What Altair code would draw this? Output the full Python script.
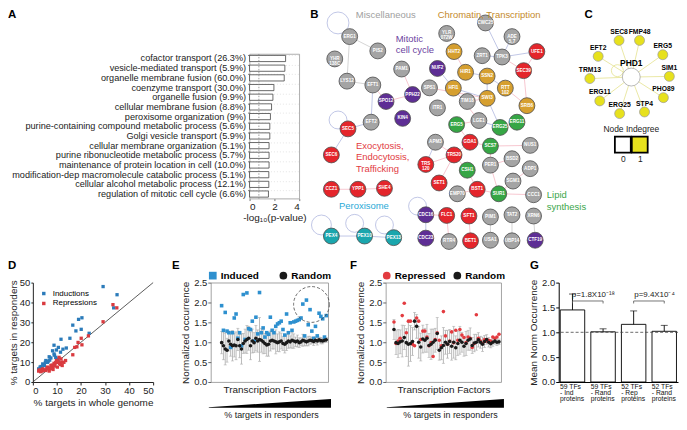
import altair as alt
import pandas as pd

FONT = "Liberation Sans"

# ---------------- Panel A : GO enrichment ----------------
go_terms = [
    "cofactor transport (26.3%)",
    "vesicle-mediated transport (5.9%)",
    "organelle membrane fusion (60.0%)",
    "coenzyme transport (30.0%)",
    "organelle fusion (9.9%)",
    "cellular membrane fusion (8.8%)",
    "peroxisome organization (9%)",
    "purine-containing compound metabolic process (5.6%)",
    "Golgi vesicle transport (5.9%)",
    "cellular membrane organization (5.1%)",
    "purine ribonucleotide metabolic process (5.7%)",
    "maintenance of protein location in cell (10.0%)",
    "modification-dep macromolecule catabolic process (5.1%)",
    "cellular alcohol metabolic process (12.1%)",
    "regulation of mitotic cell cycle (6.6%)",
]
go_neglogp = [2.90, 2.84, 2.79, 1.96, 1.88, 1.77, 1.68, 1.63, 1.63, 1.57, 1.57, 1.57, 1.55, 1.55, 1.52]
go_cutoff = [0.75]

# ---------------- Panel B : responder network (layout units) ----------------
b_groups = ["misc", "mitotic", "chromatin", "traffic", "perox", "lipid"]
b_node_colors = ["#a4a4a4", "#5e2e95", "#d69f2f", "#e4252b", "#1aa6ad", "#36a645"]
b_caption_colors = ["#a0a0a0", "#6b3fa0", "#c48a2b", "#e23b3f", "#29a9d6", "#3aa64a"]

b_misc_names = ["ERG1", "PIS2", "YHR\n138C", "LYS12", "EFT1", "PAM1", "EFT2", "SPS1", "ITR1",
                "YLR\n072W", "CWC25", "ADE\n5,7", "ZRT1", "TPK3", "TIM18", "LGE1", "APM3", "NUS1",
                "BSD2", "PER1", "ADP1", "SGM1", "EMP70", "CCC1", "PIM1", "TAT2", "XRN6", "RTR4",
                "USA1", "UBP14"]
b_misc_x = [351.7, 380, 336.7, 349, 375, 404, 373.3, 432, 440, 449.3, 488.3, 515, 485, 505, 470,
            481.7, 438, 533.3, 515, 493.3, 533.3, 516, 460, 536.7, 493.3, 515, 536.7, 451.7, 493.3, 515]
b_misc_y = [29.3, 44.3, 52.7, 76, 80, 63.3, 119, 83, 104, 26, 15, 29.3, 49.3, 50.7, 97.3, 117.3,
            140, 143.3, 157.3, 164, 167.7, 180.7, 194, 195, 218.3, 216, 217.3, 244, 242.7, 243.3]

b_mitotic_names = ["SPO12", "PPH22", "KIN4", "NUF2", "CDC16", "CDC23", "CTF19"]
b_mitotic_x = [388.3, 415, 405, 440, 428.3, 428.3, 538.3]
b_mitotic_y = [97.3, 90, 115, 62.7, 216, 240.5, 242.7]

b_chromatin_names = ["HHT2", "HIR1", "SSN2", "RTT\n102", "HFI1", "SWI3", "SRB6"]
b_chromatin_x = [456.7, 468.3, 490, 508.3, 456, 490, 530]
b_chromatin_y = [45, 66.7, 70.7, 83.3, 83.3, 94, 101.7]

b_traffic_names = ["SEC5", "SEC6", "CCZ1", "YPP1", "SHE4", "UFE1", "SEC39", "GDA1", "TRS20",
                   "TRS\n120", "SET1", "BST1", "FLC1", "SFT1", "BET1"]
b_traffic_x = [350, 333.3, 333.3, 360, 386.7, 540, 526.7, 472.7, 456.7, 428.3, 441.7, 480, 449.3, 471.7, 473.3]
b_traffic_y = [126, 153.3, 189.3, 189.3, 188.3, 45, 65, 140, 153.3, 163.3, 182.7, 189.3, 216.7, 217.3, 243.3]

b_perox_names = ["PEX4", "PEX10", "PEX13"]
b_perox_x = [333.3, 366.7, 396]
b_perox_y = [238.3, 238.3, 240]

b_lipid_names = ["ERG5", "ERG25", "ERG11", "SCS7", "CSH1", "SUR1"]
b_lipid_x = [459.3, 503, 520, 493.3, 470, 501.7]
b_lipid_y = [121.5, 124.5, 119, 144, 169.3, 194]

b_edge_src = ["ERG1", "ERG1", "LYS12", "EFT1", "EFT1", "SPO12", "PAM1", "SEC5", "SEC5", "CCZ1",
              "YPP1", "PEX4", "PEX10", "CDC16", "CDC16", "FLC1", "SFT1", "PIM1", "TAT2", "XRN6",
              "HHT2", "HIR1", "SSN2", "RTT102", "HFI1", "SWI3", "ZRT1", "CWC25", "ADE5,7", "TPK3",
              "SEC39", "NUF2", "SPS1", "HFI1", "SWI3", "TIM18", "ERG5", "LGE1", "ERG25", "ERG5",
              "GDA1", "TRS20", "TRS20", "TRS20", "TRS20", "TRS20", "SCS7", "SCS7", "PER1", "PER1",
              "SUR1", "SUR1", "BST1", "EMP70", "CSH1", "SGM1", "APM3", "SEC39", "UFE1"]
b_edge_dst = ["PIS2", "LYS12", "EFT1", "EFT2", "SPO12", "PPH22", "PPH22", "EFT2", "SEC6", "YPP1",
              "SHE4", "PEX10", "PEX13", "CDC23", "FLC1", "RTR4", "BET1", "USA1", "UBP14", "CTF19",
              "HIR1", "SSN2", "RTT102", "SRB6", "SWI3", "SSN2", "TPK3", "TPK3", "TPK3", "SEC39",
              "UFE1", "HFI1", "SWI3", "LGE1", "ERG25", "SWI3", "LGE1", "ERG25", "ERG11", "GDA1",
              "SCS7", "GDA1", "APM3", "TRS120", "CSH1", "SET1", "NUS1", "PER1", "BSD2", "SUR1",
              "SGM1", "CCC1", "SUR1", "BST1", "BST1", "ADP1", "TRS120", "SRB6", "TPK3"]
b_edge_kind = ["g", "g", "g", "b", "r", "r", "r", "b", "b", "r",
               "r", "b", "b", "b", "r", "r", "r", "g", "g", "g",
               "r", "b", "b", "r", "b", "b", "b", "b", "b", "r",
               "r", "b", "r", "r", "b", "r", "r", "b", "r", "r",
               "r", "r", "r", "r", "r", "r", "r", "r", "r", "r",
               "r", "r", "r", "r", "r", "r", "b", "r", "b"]

b_loop_x = [340, 340, 323.3, 356.7, 386.7, 420]
b_loop_y = [15, 116.7, 226.7, 225, 226.7, 207]
b_loop_d = [22, 18, 20, 18, 18, 18]

b_cap_text = ["Miscellaneous", "Chromatin, Transcription", "Peroxisome",
              "Mitotic\ncell cycle", "Exocytosis,\nEndocytosis,\nTrafficking", "Lipid\nsynthesis"]
b_cap_group = ["misc", "chromatin", "perox", "mitotic", "traffic", "lipid"]
b_cap_x = [388, 492, 366, 398, 358, 550]
b_cap_y = [6.5, 6.5, 207, 26.5, 138.5, 190.5]
b_cap_multiline = [False, False, False, True, True, True]

# ---------------- Panel C : PHD1 targets ----------------
c_hub = "PHD1"
c_hub_x, c_hub_y = 635, 71.7
c_targets = ["SEC8", "FMP48", "ERG5", "EFT2", "SIM1", "TRM13", "PHO89", "ERG11", "ERG25", "STP4"]
c_x = [622.7, 643.3, 666.7, 601.7, 673.3, 593.3, 667.3, 603.3, 623.3, 648.3]
c_y = [33.3, 33.3, 48.3, 50, 71, 73.3, 93.3, 96.7, 110, 108.3]
c_key_indegree = ["0", "1"]
c_key_x = [626.5, 643.5]
c_key_y = [142.5, 142.5]

# ---------------- Panel D ----------------
ind_genome = [29.2, 35.0, 33.6, 20.4, 19.0, 16.6, 17.9, 20.1, 23.4, 11.7, 15.4, 8.8, 10.6, 9.8, 8.2,
              13.9, 6.8, 7.5, 5.4, 4.1, 3.4, 2.4, 4.8, 6.1, 8.8, 9.5, 10.2, 8.2, 10.6, 5.2, 3.0, 7.0,
              9.0, 11.5, 12.5, 6.4, 4.5, 3.8]
ind_resp = [48.0, 43.9, 37.3, 32.3, 31.5, 28.6, 25.7, 26.5, 24.5, 21.5, 22.0, 18.5, 17.4, 16.1, 15.7,
            17.1, 12.7, 12.1, 10.8, 9.1, 7.8, 6.6, 8.3, 9.9, 14.1, 12.4, 11.6, 8.3, 9.9, 9.9, 7.5, 11.0,
            13.5, 15.0, 16.5, 10.5, 8.5, 6.9]
rep_genome = [33.3, 34.9, 29.2, 18.8, 20.1, 17.4, 18.3, 16.6, 23.1, 20.4, 13.6, 11.7, 12.2, 10.9, 10.2,
              9.2, 8.2, 6.8, 5.4, 3.8, 2.4, 4.8, 6.1, 7.5, 8.8, 9.8, 11.1, 2.7, 6.8, 8.4, 10.2, 11.5,
              12.9, 4.1, 7.0, 8.0, 9.5, 10.5, 5.8, 4.4, 3.2, 7.6, 9.0, 12.0]
rep_resp = [38.9, 37.3, 30.3, 19.9, 22.0, 17.4, 17.7, 13.7, 23.2, 18.7, 10.8, 11.6, 8.3, 12.4, 9.9,
            9.1, 7.5, 6.6, 5.8, 5.5, 5.5, 6.1, 7.5, 8.3, 9.4, 10.8, 9.4, 6.1, 5.5, 6.3, 7.5, 8.8,
            9.9, 6.6, 7.0, 8.5, 9.8, 10.5, 6.8, 5.9, 5.2, 6.8, 8.0, 10.0]
identity_line = [0, 50]

# ---------------- Panel E ----------------
induced_E = [1.92, 1.30, 1.75, 1.28, 1.24, 0.87, 1.24, 1.61, 1.71, 1.10,
             1.24, 0.91, 2.20, 1.07, 2.24, 1.34, 1.32, 1.53, 1.03, 1.63,
             1.21, 2.25, 1.24, 1.36, 1.13, 1.24, 1.20, 1.63, 1.30, 1.24,
             1.40, 1.46, 1.49, 1.53, 1.32, 1.18, 1.71, 1.24, 1.49, 1.30,
             1.51, 1.53, 1.55, 1.57, 1.61, 1.96, 1.16, 2.06, 1.44, 1.82,
             1.28, 1.10, 1.40, 1.16, 1.73, 1.65, 1.59, 1.13, 1.67]
random_E = [0.99, 0.91, 0.83, 0.80, 1.03, 0.95, 0.91, 0.93, 0.91, 1.07,
            0.91, 0.83, 0.97, 1.03, 1.07, 1.10, 0.91, 1.03, 0.99, 1.10,
            1.03, 1.07, 1.05, 1.01, 0.97, 0.93, 0.95, 1.03, 1.05, 1.03,
            1.01, 0.99, 1.01, 1.03, 0.97, 0.95, 0.99, 1.03, 1.01, 1.05,
            1.03, 1.01, 1.03, 0.99, 1.01, 1.05, 1.03, 1.01, 1.03, 1.05,
            1.04, 1.02, 1.05, 1.03, 1.06, 1.04, 1.03, 1.05, 1.06]
random_E_sd = [0.28, 0.35, 0.40, 0.30, 0.25, 0.30, 0.38, 0.30, 0.35, 0.28,
               0.30, 0.38, 0.25, 0.30, 0.35, 0.30, 0.35, 0.30, 0.25, 0.32,
               0.28, 0.55, 0.30, 0.30, 0.25, 0.28, 0.30, 0.25, 0.22, 0.20,
               0.30, 0.22, 0.25, 0.20, 0.18, 0.22, 0.20, 0.18, 0.15, 0.20,
               0.18, 0.12, 0.15, 0.12, 0.10, 0.15, 0.12, 0.10, 0.12, 0.10,
               0.08, 0.10, 0.08, 0.10, 0.07, 0.08, 0.07, 0.06, 0.06]
highlight_E_rank = [50.8]
highlight_E_occ = [1.95]

# ---------------- Panel F ----------------
repressed_F = [1.51, 0.97, 1.03, 1.10, 1.67, 1.98, 1.24, 1.53, 1.53, 0.95,
               0.91, 1.61, 1.53, 1.07, 1.28, 1.28, 1.13, 0.91, 0.99, 0.64,
               1.07, 1.24, 1.05, 0.91, 1.77, 1.16, 0.95, 1.03, 1.26, 0.99,
               1.30, 1.05, 1.32, 1.18, 1.12, 0.99, 1.13, 1.10, 0.87, 0.97,
               1.69, 1.10, 1.03, 0.97, 1.07, 1.03, 1.05, 1.03, 1.13, 1.10,
               1.13, 1.20]
random_F = [1.32, 0.99, 0.97, 1.01, 1.03, 1.12, 0.99, 0.95, 0.97, 1.02,
            1.53, 1.40, 1.00, 0.88, 1.08, 1.05, 1.10, 0.92, 0.95, 1.00,
            1.05, 1.22, 0.80, 0.86, 0.92, 1.00, 0.95, 1.02, 0.90, 1.00,
            0.86, 0.97, 1.05, 1.00, 0.90, 0.97, 1.05, 1.08, 0.92, 0.98,
            1.00, 1.06, 1.00, 0.95, 1.02, 1.07, 1.00, 0.96, 1.00, 1.03,
            1.00, 1.01]
random_F_sd = [0.25, 0.30, 0.35, 0.30, 0.40, 0.30, 0.35, 0.55, 0.45, 0.35,
               0.22, 0.30, 0.40, 0.35, 0.35, 0.30, 0.35, 0.30, 0.38, 0.33,
               0.30, 0.40, 0.25, 0.30, 0.45, 0.30, 0.35, 0.30, 0.35, 0.40,
               0.30, 0.30, 0.35, 0.25, 0.25, 0.30, 0.25, 0.28, 0.20, 0.22,
               0.20, 0.18, 0.15, 0.18, 0.15, 0.12, 0.12, 0.10, 0.10, 0.08,
               0.08, 0.07]

# ---------------- Panel G ----------------
g_groups = ["59  TFs|- Ind|proteins", "59  TFs |- Rand|proteins",
            "52  TFs|- Rep|proteins", "52  TFs |- Rand|proteins"]
g_mean = [1.45, 1.01, 1.16, 1.02]
g_err = [0.32, 0.06, 0.27, 0.12]
g_reference = [1.0]
g_cmp_a = [g_groups[0], g_groups[2]]
g_cmp_b = [g_groups[1], g_groups[3]]
g_cmp_y = [1.63, 1.63]
g_cmp_p = ["p=1.8X10⁻¹⁸", "p=9.4X10⁻⁴"]

# ================= layout sizes =================
TOP_H = 145.5
SPACER_W, A_W, B_W, C_W = 160, 50, 173, 90
D_W, E_W, F_W, G_W = 121, 118, 116, 120
BOT_H = 100
NET_K = 0.96                       # vertical squeeze of the network layout
top_y_dom = [47.5, 47.5 + TOP_H / NET_K]
BOT_LETTER_DY = -17


def lay_x(lo, w):
    return alt.Scale(domain=[lo, lo + w], nice=False, zero=False)


def lay_y():
    return alt.Scale(domain=top_y_dom, nice=False, zero=False, reverse=True)


def letter(t, dx, dy):
    return alt.Chart(pd.DataFrame({"t": [t]})).mark_text(
        fontSize=11.5, fontWeight="bold", align="left", baseline="middle", color="black"
    ).encode(x=alt.value(dx), y=alt.value(dy), text="t:N")


# ---------- spacer carrying letter A ----------
top_letters = pd.DataFrame({"t": ["A", "B", "C"], "x": [8, 312, 588], "y": [7, 7, 7]})
spacer = alt.Chart(top_letters.iloc[[0]]).mark_text(
    fontSize=11.5, fontWeight="bold", align="left", baseline="middle", color="black"
).encode(
    x=alt.X("x:Q", scale=lay_x(33, SPACER_W), axis=None),
    y=alt.Y("y:Q", scale=lay_y(), axis=None),
    text="t:N",
).properties(width=SPACER_W, height=TOP_H)

# ---------- A ----------
dfA = pd.DataFrame({"term": go_terms, "score": go_neglogp})
xA = alt.X("score:Q", scale=alt.Scale(domain=[0, 4], nice=False),
           axis=alt.Axis(values=[0, 2, 4], title="-log₁₀(p-value)", titleFontSize=10,
                         labelFontSize=10, tickSize=2, domain=False, grid=False,
                         labelPadding=1, titlePadding=1, tickColor="#777"))
yA = alt.Y("term:N", sort=go_terms, scale=alt.Scale(paddingInner=0.36, paddingOuter=0.15),
           axis=alt.Axis(title=None, labelFontSize=9.2, labelPadding=2, tickSize=2, domain=False,
                         tickColor="#777", labelLimit=400, grid=True, gridColor="#e4e4e4",
                         gridDash=[1, 2], bandPosition=0))
barsA = alt.Chart(dfA).mark_bar(fill="white", stroke="#444", strokeWidth=0.8).encode(x=xA, y=yA)
cutA = alt.Chart(pd.DataFrame({"score": go_cutoff})).mark_rule(
    strokeDash=[1.5, 1.5], color="#888", strokeWidth=0.8).encode(x=xA)
chartA = alt.layer(barsA, cutA).properties(
    width=A_W, height=TOP_H, view=alt.ViewBackground(stroke="#999", strokeWidth=0.8))

# ---------- B ----------
rows = []
for grp, names, xs, ys in [("misc", b_misc_names, b_misc_x, b_misc_y),
                           ("mitotic", b_mitotic_names, b_mitotic_x, b_mitotic_y),
                           ("chromatin", b_chromatin_names, b_chromatin_x, b_chromatin_y),
                           ("traffic", b_traffic_names, b_traffic_x, b_traffic_y),
                           ("perox", b_perox_names, b_perox_x, b_perox_y),
                           ("lipid", b_lipid_names, b_lipid_x, b_lipid_y)]:
    for n, xv, yv in zip(names, xs, ys):
        rows.append({"label": n, "id": n.replace("\n", ""), "x": xv, "y": yv, "group": grp})
nodesB = pd.DataFrame(rows)
posB = nodesB.set_index("id")
edgesB = pd.DataFrame({"src": b_edge_src, "dst": b_edge_dst, "kind": b_edge_kind})
edgesB["x"] = edgesB.src.map(posB.x)
edgesB["y"] = edgesB.src.map(posB.y)
edgesB["x2"] = edgesB.dst.map(posB.x)
edgesB["y2"] = edgesB.dst.map(posB.y)
loopsB = pd.DataFrame({"x": b_loop_x, "y": b_loop_y, "area": [d * d for d in b_loop_d]})
capsB = pd.DataFrame({"t": b_cap_text, "group": b_cap_group, "x": b_cap_x, "y": b_cap_y,
                      "multi": b_cap_multiline})

XB = alt.X("x:Q", scale=lay_x(359, B_W), axis=None)
YB = alt.Y("y:Q", scale=lay_y(), axis=None)
cap_color = alt.Color("group:N", scale=alt.Scale(domain=b_groups, range=b_caption_colors), legend=None)

edgeLayer = alt.Chart(edgesB).mark_rule(strokeWidth=0.7).encode(
    x=XB, y=YB, x2="x2:Q", y2="y2:Q",
    stroke=alt.Stroke("kind:N", scale=alt.Scale(domain=["r", "b", "g"],
                                                range=["#f3aebb", "#a6aedb", "#c2c2c2"]), legend=None))
loopLayer = alt.Chart(loopsB).mark_point(shape="circle", filled=False, stroke="#a6aedb",
                                          strokeWidth=0.7, opacity=1).encode(
    x=XB, y=YB, size=alt.Size("area:Q", scale=None, legend=None))
nodeLayer = alt.Chart(nodesB).mark_circle(size=256, stroke="#4d4d4d", strokeWidth=0.8, opacity=1).encode(
    x=XB, y=YB, fill=alt.Fill("group:N", scale=alt.Scale(domain=b_groups, range=b_node_colors), legend=None))
nodeText = alt.Chart(nodesB).mark_text(color="white", fontSize=4.6, fontWeight="bold",
                                       lineBreak="\n", lineHeight=5).encode(x=XB, y=YB, text="label:N")
capCenter = alt.Chart(capsB[~capsB.multi]).mark_text(fontSize=9.5, align="center", baseline="middle").encode(
    x=XB, y=YB, text="t:N", color=cap_color)
capLeft = alt.Chart(capsB[capsB.multi]).mark_text(fontSize=9.5, align="left", baseline="top",
                                                  lineBreak="\n", lineHeight=11.5).encode(
    x=XB, y=YB, text="t:N", color=cap_color)
letterB = alt.Chart(top_letters.iloc[[1]]).mark_text(
    fontSize=11.5, fontWeight="bold", align="left", baseline="middle", color="black").encode(
    x=XB, y=YB, text="t:N")
chartB = alt.layer(edgeLayer, loopLayer, nodeLayer, nodeText, capCenter, capLeft, letterB).properties(
    width=B_W, height=TOP_H)

# ---------- C ----------
XC = alt.X("x:Q", scale=lay_x(590, C_W), axis=None)
YC = alt.Y("y:Q", scale=lay_y(), axis=None)
indeg_fill = alt.Fill("indeg:N", scale=alt.Scale(domain=["0", "1"], range=["white", "#e7e11d"]), legend=None)
nodesC = pd.DataFrame({"label": [c_hub] + c_targets, "x": [c_hub_x] + c_x, "y": [c_hub_y] + c_y,
                       "indeg": ["0"] + ["1"] * len(c_targets),
                       "area": [324] + [100] * len(c_targets)})
edgesC = pd.DataFrame({"x": [c_hub_x] * len(c_targets), "y": [c_hub_y] * len(c_targets),
                       "x2": c_x, "y2": c_y})
loopC = pd.DataFrame({"x": [621], "y": [65], "area": [144]})
keyC = pd.DataFrame({"indeg": c_key_indegree, "x": c_key_x, "y": c_key_y})
keyText = pd.DataFrame({"t": ["Node Indegree", "0", "1"], "x": [635, 627, 644], "y": [126, 158, 158]})

cEdges = alt.Chart(edgesC).mark_rule(stroke="#e4e28f", strokeWidth=0.8).encode(x=XC, y=YC, x2="x2:Q", y2="y2:Q")
cLoop = alt.Chart(loopC).mark_point(shape="circle", filled=False, stroke="#e4e28f", strokeWidth=0.8,
                                     opacity=1).encode(x=XC, y=YC, size=alt.Size("area:Q", scale=None, legend=None))
cNodes = alt.Chart(nodesC).mark_circle(stroke="#9a9a9a", strokeWidth=0.7, opacity=1).encode(
    x=XC, y=YC, size=alt.Size("area:Q", scale=None, legend=None), fill=indeg_fill)
cLabels = alt.Chart(nodesC.iloc[1:]).mark_text(fontSize=6.8, fontWeight="bold", color="black", dy=-8.5).encode(
    x=XC, y=YC, text="label:N")
cHubLabel = alt.Chart(nodesC.iloc[[0]]).mark_text(fontSize=8.5, fontWeight="bold", color="black", dy=-14).encode(
    x=XC, y=YC, text="label:N")
cKey = alt.Chart(keyC).mark_square(size=256, stroke="black", strokeWidth=1.8, opacity=1).encode(
    x=XC, y=YC, fill=indeg_fill)
cKeyText = alt.Chart(keyText).mark_text(fontSize=8.5, color="#222").encode(x=XC, y=YC, text="t:N")
letterC = alt.Chart(top_letters.iloc[[2]]).mark_text(
    fontSize=11.5, fontWeight="bold", align="left", baseline="middle", color="black").encode(
    x=XC, y=YC, text="t:N")
chartC = alt.layer(cEdges, cLoop, cNodes, cLabels, cHubLabel, cKey, cKeyText, letterC).properties(
    width=C_W, height=TOP_H)

# ---------- D ----------
dfD = pd.DataFrame({
    "genome": ind_genome + rep_genome,
    "resp": ind_resp + rep_resp,
    "kind": ["Inductions"] * len(ind_genome) + ["Repressions"] * len(rep_genome),
})
xD = alt.X("genome:Q", scale=alt.Scale(domain=[0, 50], nice=False),
           axis=alt.Axis(values=[0, 10, 20, 30, 40, 50], title="% targets in whole genome",
                         labelFontSize=9.5, titleFontSize=10, tickSize=3, domainColor="#222",
                         tickColor="#222", grid=False, labelPadding=1, titlePadding=2))
yD = alt.Y("resp:Q", scale=alt.Scale(domain=[0, 50], nice=False),
           axis=alt.Axis(values=[0, 10, 20, 30, 40, 50], title="% targets in responders",
                         labelFontSize=9.5, titleFontSize=10, tickSize=2, domainColor="#222",
                         tickColor="#222", grid=False, labelPadding=1, titlePadding=1))
diagD = alt.Chart(pd.DataFrame({"genome": identity_line, "resp": identity_line})).mark_line(
    color="#333", strokeWidth=0.8).encode(x=xD, y=yD)
ptsD = alt.Chart(dfD).mark_square(size=11, opacity=1).encode(
    x=xD, y=yD,
    color=alt.Color("kind:N", scale=alt.Scale(domain=["Inductions", "Repressions"],
                                              range=["#2b7bba", "#d93a3f"]),
                    legend=alt.Legend(title=None, orient="top-left", labelFontSize=8, symbolSize=12,
                                      symbolType="square", offset=7, padding=0, rowPadding=2,
                                      labelOffset=5)))
chartD = alt.layer(diagD, ptsD, letter("D", -25, BOT_LETTER_DY)).properties(width=D_W, height=BOT_H)

PX_PER_UNIT = BOT_H / 2.5


# ---------- E / F ----------
def occurrence_panel(test_vals, rnd_vals, rnd_sd, test_name, test_color, test_shape, xdom, width,
                     letter_t, letter_dx, legend_x, col_pad, wedge_span, text_rank, highlight=None):
    n = len(test_vals)
    ranks = list(range(1, n + 1))
    pts = pd.DataFrame({"rank": ranks * 2, "occ": test_vals + rnd_vals,
                        "series": [test_name] * n + ["Random"] * n})
    rnd = pd.DataFrame({"rank": ranks, "occ": rnd_vals, "sd": rnd_sd})
    xs = alt.Scale(domain=xdom, nice=False, zero=False)
    ys = alt.Scale(domain=[0, 2.5], nice=False)
    yaxis = alt.Axis(values=[0, 0.5, 1, 1.5, 2, 2.5], format=".1f", title="Normalized occurrence",
                     labelFontSize=9.5, titleFontSize=10, tickSize=3, domain=False, grid=False,
                     tickColor="#666", labelPadding=1, titlePadding=3)
    xaxis = alt.Axis(labels=False, ticks=False, domain=False, grid=False,
                     title="Transcription Factors", titleFontSize=10, titlePadding=3)
    X = alt.X("rank:Q", scale=xs, axis=xaxis)

    def Y(f):
        return alt.Y(f, scale=ys, axis=yaxis)

    err = alt.Chart(rnd).transform_calculate(
        lo="datum.occ - datum.sd", hi="datum.occ + datum.sd"
    ).mark_rule(color="#a8a8a8", strokeWidth=0.8).encode(x=X, y=Y("lo:Q"), y2="hi:Q")
    caps = alt.Chart(rnd).transform_calculate(
        lo="datum.occ - datum.sd", hi="datum.occ + datum.sd"
    ).transform_fold(["lo", "hi"], as_=["end", "cap"]).mark_tick(
        orient="horizontal", color="#a8a8a8", thickness=0.8, size=3).encode(x=X, y=Y("cap:Q"))
    leg = alt.Legend(title=None, orient="none", legendX=legend_x, legendY=-12, direction="horizontal",
                     labelFontSize=10, labelFontWeight="bold", symbolSize=60, columnPadding=col_pad,
                     labelOffset=3, symbolStrokeWidth=0, padding=0)
    points = alt.Chart(pts).mark_point(filled=True, opacity=1, size=13).encode(
        x=X, y=Y("occ:Q"),
        color=alt.Color("series:N", scale=alt.Scale(domain=[test_name, "Random"],
                                                    range=[test_color, "#1a1a1a"]), legend=leg),
        shape=alt.Shape("series:N", scale=alt.Scale(domain=[test_name, "Random"],
                                                    range=[test_shape, "circle"]), legend=leg))
    # wedge below the panel: thin at low ranks, thick at high ranks (pixel depth below the axis)
    wedge = pd.DataFrame({"rank": wedge_span,
                          "base": [-26 / PX_PER_UNIT] * 2,
                          "top": [-25.5 / PX_PER_UNIT, -17 / PX_PER_UNIT]})
    wedgeL = alt.Chart(wedge).mark_area(color="black").encode(x=X, y=Y("base:Q"), y2="top:Q")
    resp = pd.DataFrame({"rank": [text_rank], "occ": [-33.5 / PX_PER_UNIT], "t": ["% targets in responders"]})
    respL = alt.Chart(resp).mark_text(fontSize=9, color="#222").encode(x=X, y=Y("occ:Q"), text="t:N")
    layers = [err, caps, points, wedgeL, respL]
    if highlight is not None:
        hl = pd.DataFrame({"rank": highlight[0], "occ": highlight[1]})
        layers.append(alt.Chart(hl).mark_point(shape="circle", filled=False, size=1296, color="#444",
                                               strokeDash=[3, 2], strokeWidth=0.8, opacity=1).encode(
            x=X, y=Y("occ:Q")))
    layers.append(letter(letter_t, letter_dx, BOT_LETTER_DY))
    return alt.layer(*layers).properties(width=width, height=BOT_H,
                                         view=alt.ViewBackground(stroke="#999", strokeWidth=0.9))


chartE = occurrence_panel(induced_E, random_E, random_E_sd, "Induced", "#2e90cf", "square",
                          [-5, 60], E_W, "E", -39, -3, 19, [-6.1, 61.6], 28.6,
                          highlight=(highlight_E_rank, highlight_E_occ))
chartF = occurrence_panel(repressed_F, random_F, random_F_sd, "Repressed", "#e33b40", "circle",
                          [-3, 53], F_W, "F", -36, -4, 6, [-2.5, 54.4], 28.4)

# ---------- G ----------
dfG = pd.DataFrame({"grp": g_groups, "mean": g_mean, "err": g_err})
xG = alt.X("grp:N", sort=g_groups, scale=alt.Scale(paddingInner=0.2, paddingOuter=0.05),
           axis=alt.Axis(title=None, labelExpr="split(datum.label, '|')", labelAngle=0,
                         labelFontSize=6.8, labelLineHeight=5.8, labelAlign="left", labelOffset=-12.5,
                         labelBaseline="top", ticks=False, domainColor="black", labelPadding=2,
                         labelColor="#111"))
ysG = alt.Scale(domain=[0, 2], nice=False)
yaxG = alt.Axis(values=[0, 0.5, 1, 1.5, 2], format=".1f", title="Mean Norm Occurrence",
                labelFontSize=9.5, titleFontSize=10, tickSize=3, domainColor="black",
                tickColor="black", grid=False, labelPadding=1, titlePadding=3)


def YG(f):
    return alt.Y(f, scale=ysG, axis=yaxG)


barsG = alt.Chart(dfG).mark_bar(fill="white", stroke="black", strokeWidth=0.9).encode(x=xG, y=YG("mean:Q"))
errG = alt.Chart(dfG).transform_calculate(hi="datum.mean + datum.err").mark_rule(
    color="black", strokeWidth=0.9).encode(x=xG, y=YG("mean:Q"), y2="hi:Q")
capG = alt.Chart(dfG).transform_calculate(hi="datum.mean + datum.err").mark_tick(
    orient="horizontal", color="black", thickness=0.9, size=7).encode(x=xG, y=YG("hi:Q"))
refG = alt.Chart(pd.DataFrame({"level": g_reference})).mark_rule(
    strokeDash=[3, 2], color="#444", strokeWidth=0.8).encode(y=YG("level:Q"))
brk_rows = []
for i, (a, b, yv) in enumerate(zip(g_cmp_a, g_cmp_b, g_cmp_y)):
    brk_rows += [{"bid": i, "ord": 0, "grp": a, "y": yv - 0.05},
                 {"bid": i, "ord": 1, "grp": a, "y": yv},
                 {"bid": i, "ord": 2, "grp": b, "y": yv},
                 {"bid": i, "ord": 3, "grp": b, "y": yv - 0.05}]
brkG = alt.Chart(pd.DataFrame(brk_rows)).mark_line(color="#555", strokeWidth=0.8).encode(
    x=xG, y=YG("y:Q"), detail="bid:N", order="ord:Q")
ptxt = pd.DataFrame({"grp": g_cmp_a, "y": [v + 0.05 for v in g_cmp_y], "p": g_cmp_p})
ptxtG = alt.Chart(ptxt).mark_text(fontSize=8, dx=21, baseline="bottom", color="#222").encode(
    x=xG, y=YG("y:Q"), text="p:N")
chartG = alt.layer(barsG, errG, capG, refG, brkG, ptxtG, letter("G", -29, BOT_LETTER_DY)).properties(
    width=G_W, height=BOT_H)

IND = dict(color="independent", fill="independent", shape="independent", stroke="independent",
           size="independent")

top_row = alt.hconcat(spacer, chartA, chartB, chartC, spacing=58, bounds="flush").resolve_scale(
    **IND).resolve_legend(**IND)
bottom_row = alt.hconcat(chartD, chartE, chartF, chartG, spacing=58, bounds="flush").resolve_scale(
    **IND).resolve_legend(**IND)

chart = alt.vconcat(top_row, bottom_row, spacing=7).resolve_scale(**IND).resolve_legend(**IND).properties(
    padding={"left": 0, "top": 0, "right": 0, "bottom": 0}, background="white"
).configure(font=FONT).configure_view(stroke=None).configure_axis(
    labelFont=FONT, titleFont=FONT, titleFontWeight="normal", labelColor="#222", titleColor="#222"
).configure_legend(labelFont=FONT).configure_text(font=FONT)

chart.save("out.html", embed_options={"renderer": "svg", "actions": False})
